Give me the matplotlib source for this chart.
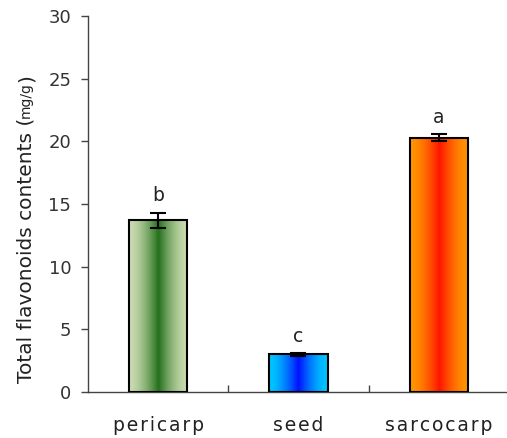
import numpy as np
import matplotlib.pyplot as plt
from matplotlib.colors import to_rgb

# data
categories = ['pericarp', 'seed', 'sarcocarp']
values = [13.7, 3.0, 20.3]
errors = [0.6, 0.12, 0.3]
letters = ['b', 'c', 'a']
edge_colors = ['#cadcb0', '#00c6ff', '#ff9600']
center_colors = ['#24701c', '#0010ff', '#ff1400']

fig = plt.figure(figsize=(5.07, 4.38), dpi=100)
ax = fig.add_axes([0.1736, 0.105, 0.83, 0.8585])

x = np.arange(len(categories))
width = 0.415
bars = ax.bar(x, values, width, facecolor='none', edgecolor='black', linewidth=1.5, zorder=3)

# horizontal gradient fill inside each bar
for bar, c0, c1 in zip(bars, edge_colors, center_colors):
    n = 200
    t = 1 - np.abs(np.linspace(-1, 1, n))
    f = t ** 1.6
    a0, a1 = np.array(to_rgb(c0)), np.array(to_rgb(c1))
    img = a0[None, :] + (a1 - a0)[None, :] * f[:, None]
    img = img[None, :, :]
    x0 = bar.get_x()
    im = ax.imshow(img, extent=(x0, x0 + bar.get_width(), 0, bar.get_height()),
                   aspect='auto', zorder=2, interpolation='bilinear')
    im.set_clip_path(bar)

ax.errorbar(x, values, yerr=errors, fmt='none', ecolor='black', elinewidth=1.5,
            capsize=5.5, capthick=1.5, zorder=4)

for xi, v, e, lab in zip(x, values, errors, letters):
    ax.text(xi, v + e + 0.9, lab, ha='center', va='baseline', fontsize=13.5, color='#222222')

# letter-spaced category labels, like the original
spaced = ['\u200a'.join(c) for c in categories]

ax.set_xlim(-0.5, 2.5)
ax.set_ylim(0, 30)
ax.set_yticks(range(0, 31, 5))
ax.set_xticks(x)
ax.set_xticklabels(spaced, fontsize=13.5, color='#222222')
ax.set_xticks([0.5, 1.5], minor=True)
ax.tick_params(axis='x', which='major', length=0, pad=17)
ax.tick_params(axis='x', which='minor', direction='in', length=5, width=1, color='#444444')
ax.tick_params(axis='y', direction='out', length=5, width=1, pad=7, labelsize=13,
               color='#444444', labelcolor='#333333')

for s in ['top', 'right']:
    ax.spines[s].set_visible(False)
for s in ['left', 'bottom']:
    ax.spines[s].set_color('#444444')
    ax.spines[s].set_linewidth(1)

# y label with small "mg/g" unit
t1 = fig.text(26 / 507, 1 - 383 / 438, 'Total flavonoids contents (', rotation=90,
              ha='center', va='bottom', fontsize=14.5, color='#222222')
t2 = ax.annotate('mg/g', xy=(0.5, 1.0), xycoords=t1, rotation=90, ha='center',
                 va='bottom', fontsize=10, color='#222222', annotation_clip=False)
t3 = ax.annotate(')', xy=(0.5, 1.0), xycoords=t2, rotation=90, ha='center',
                 va='bottom', fontsize=14.5, color='#222222', annotation_clip=False)

fig.savefig('out.png', dpi=100)
